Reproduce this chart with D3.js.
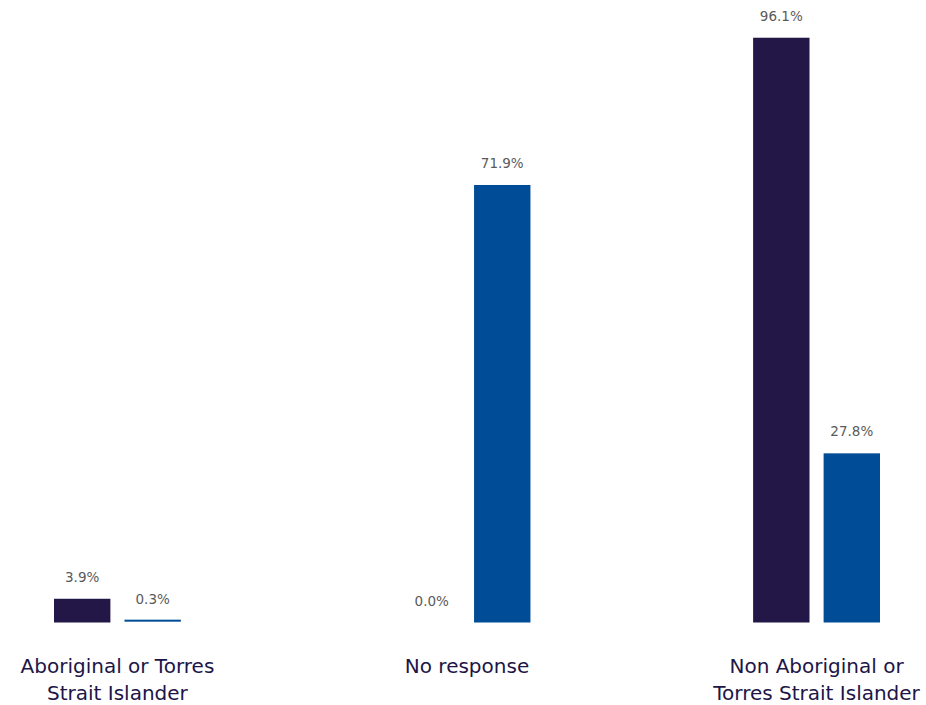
<!DOCTYPE html>
<html>
<head>
<meta charset="utf-8">
<script src="https://d3js.org/d3.v7.min.js"></script>
<style>
  body { margin: 0; background: #fff; }
  svg { display: block; }
</style>
</head>
<body>
<div id="chart"></div>
<script>
// Chart data
const categories = ["Aboriginal or Torres Strait Islander", "No response", "Non Aboriginal or Torres Strait Islander"];
const categoryLines = [["Aboriginal or Torres", "Strait Islander"], ["No response"], ["Non Aboriginal or", "Torres Strait Islander"]];
const seriesNames = ["Series A", "Series B"];
const seriesA = [3.9, 0.0, 96.1];
const seriesB = [0.3, 71.9, 27.8];
const colors = ["#221747", "#004c97"];

const width = 926, height = 705;
const baseline = 622.5;

const svg = d3.select("#chart")
    .append("svg")
    .attr("width", width)
    .attr("height", height);

// group and bar scales
const x0 = d3.scaleBand()
    .domain(categories)
    .range([54, 880])
    .paddingInner(0.637)
    .paddingOuter(0);

const x1 = d3.scaleBand()
    .domain(seriesNames)
    .range([0, x0.bandwidth()])
    .paddingInner(0.2);

const y = d3.scaleLinear()
    .domain([0, 100])
    .range([baseline, baseline - 608.5]);

const rows = categories.map((c, i) => ({
    category: c,
    values: [seriesA[i], seriesB[i]].map((v, j) => ({ series: seriesNames[j], value: v, color: colors[j] }))
}));

const groups = svg.selectAll("g.group")
    .data(rows)
    .join("g")
    .attr("class", "group")
    .attr("transform", d => `translate(${x0(d.category)},0)`);

groups.selectAll("rect")
    .data(d => d.values)
    .join("rect")
    .attr("x", d => x1(d.series))
    .attr("width", x1.bandwidth())
    .attr("y", d => y(d.value) - (d.value > 0 && d.value < 1 ? 1 : 0))
    .attr("height", d => d.value > 0 ? Math.max(2, baseline - y(d.value)) : 0)
    .attr("fill", d => d.color);

groups.selectAll("text.value")
    .data(d => d.values)
    .join("text")
    .attr("class", "value")
    .attr("x", d => x1(d.series) + x1.bandwidth() / 2)
    .attr("y", d => y(d.value) - 17)
    .attr("text-anchor", "middle")
    .style("font-family", "'DejaVu Sans', sans-serif")
    .style("font-size", "13.5px")
    .style("fill", "#5a5a5a")
    .text(d => d.value.toFixed(1) + "%");

// category labels
svg.selectAll("text.cat")
    .data(categories)
    .join("text")
    .attr("class", "cat")
    .attr("x", d => x0(d) + x0.bandwidth() / 2)
    .attr("y", 673)
    .attr("text-anchor", "middle")
    .style("font-family", "'DejaVu Sans', sans-serif")
    .style("font-size", "20px")
    .style("fill", "#201547")
    .each(function(d, i) {
        d3.select(this).selectAll("tspan")
            .data(categoryLines[i])
            .join("tspan")
            .attr("x", x0(d) + x0.bandwidth() / 2)
            .attr("dy", (t, k) => k === 0 ? 0 : 27)
            .text(t => t);
    });
</script>
</body>
</html>
